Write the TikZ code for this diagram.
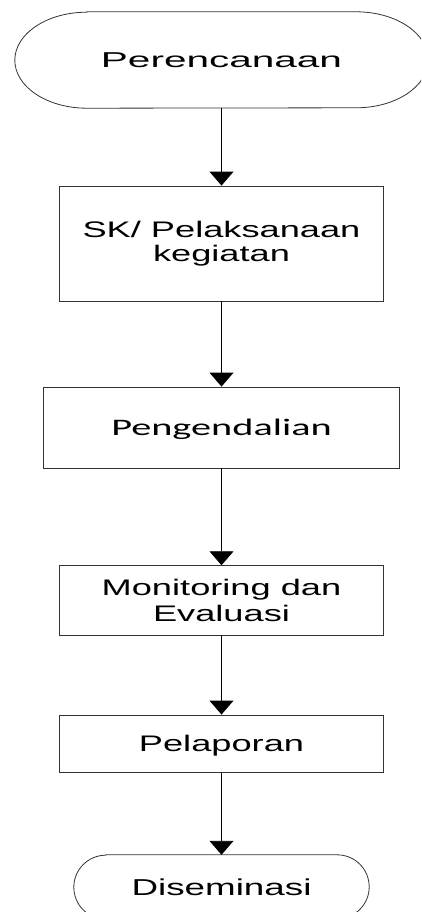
\documentclass[tikz,border=0pt]{standalone}
\usepackage{fontspec}
\usetikzlibrary{arrows.meta}
\newfontfamily\fontA{Liberation Sans}[FakeStretch=1.61]
\newfontfamily\fontP{Liberation Sans}[FakeStretch=1.885]
\newfontfamily\fontD{Liberation Sans}[FakeStretch=1.6]
\newfontfamily\fontC{Carlito}[FakeStretch=1.70]
\begin{document}
\begin{tikzpicture}[x=1pt, y=-1pt,
  box/.style={rectangle, draw=black!80, line width=0.8pt, inner sep=0pt, align=center},
  term/.style={rectangle, draw=none, inner sep=0pt, align=center},
  outline/.style={draw=black!80, line width=0.8pt},
  conn/.style={draw=black, line width=0.9pt, -{Triangle[width=24pt,length=14pt]}}
]
\fill[white] (0,0) rectangle (421,912);
\useasboundingbox (0,0) rectangle (421,912);
\clip (0,0) rectangle (421,912);

\node[term, minimum width=413pt, minimum height=96pt,
      font=\fontP\fontsize{21.5pt}{24pt}\selectfont, text height=15.4pt, text depth=0pt]
      (t1) at (221.5,60) {Perencanaan};
\draw[outline] ([xshift=72pt]t1.north west) -- ([xshift=-72pt]t1.north east)
  arc[start angle=90, end angle=-90, x radius=72pt, y radius=48pt]
  -- ([xshift=72pt]t1.south west)
  arc[start angle=270, end angle=90, x radius=72pt, y radius=48pt] -- cycle;

\node[box, minimum width=324pt, minimum height=115pt,
      font=\fontA\fontsize{22.5pt}{24.5pt}\selectfont]
      (b2) at (221.5,243.5) {SK/ Pelaksanaan\\kegiatan};

\node[box, minimum width=356.4pt, minimum height=81pt,
      font=\fontC\fontsize{23.7pt}{26pt}\selectfont, text height=15.2pt, text depth=0pt]
      (b3) at (221.5,427.5) {Pengendalian};

\node[box, minimum width=324pt, minimum height=69.3pt,
      font=\fontA\fontsize{22.5pt}{26pt}\selectfont]
      (b4) at (221.5,600.3) {Monitoring dan\\Evaluasi};

\node[box, minimum width=324pt, minimum height=57.7pt,
      font=\fontA\fontsize{22.5pt}{26pt}\selectfont, text height=16.1pt, text depth=0pt]
      (b5) at (221.5,743.8) {Pelaporan};

\node[term, minimum width=295pt, minimum height=64pt,
      font=\fontD\fontsize{23pt}{26pt}\selectfont, text height=16.5pt, text depth=0pt]
      (t6) at (221.5,887) {Diseminasi};
\draw[outline] ([xshift=32pt]t6.north west) -- ([xshift=-32pt]t6.north east)
  arc[start angle=90, end angle=-90, x radius=32pt, y radius=32pt]
  -- ([xshift=32pt]t6.south west)
  arc[start angle=270, end angle=90, x radius=32pt, y radius=32pt] -- cycle;

\draw[conn] (t1.south) -- (b2.north);
\draw[conn] (b2.south) -- (b3.north);
\draw[conn] (b3.south) -- (b4.north);
\draw[conn] (b4.south) -- (b5.north);
\draw[conn] (b5.south) -- (t6.north);
\end{tikzpicture}
\end{document}
